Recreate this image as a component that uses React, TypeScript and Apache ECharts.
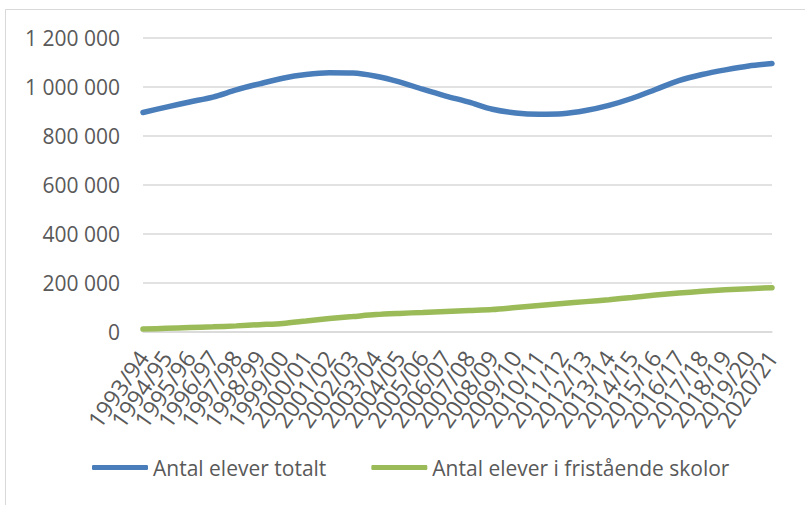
import React, { useEffect, useRef } from "react";
import * as echarts from "echarts";

const categories = [
  "1993/94", "1994/95", "1995/96", "1996/97", "1997/98", "1998/99", "1999/00",
  "2000/01", "2001/02", "2002/03", "2003/04", "2004/05", "2005/06", "2006/07",
  "2007/08", "2008/09", "2009/10", "2010/11", "2011/12", "2012/13", "2013/14",
  "2014/15", "2015/16", "2016/17", "2017/18", "2018/19", "2019/20", "2020/21",
];

const totalPupils = [
  896000, 918000, 939000, 959000, 988000, 1013000, 1036000, 1051000, 1058000,
  1057000, 1044000, 1021000, 991000, 963000, 938000, 909000, 894000, 889000,
  891000, 904000, 925000, 954000, 990000, 1026000, 1051000, 1070000, 1086000,
  1096000,
];

const independentPupils = [
  12000, 15000, 18000, 21000, 25000, 30000, 35000, 45000, 55000, 63000, 71000,
  76000, 80000, 84000, 88000, 92000, 100000, 108000, 116000, 124000, 132000,
  141000, 151000, 159000, 166000, 172000, 177000, 181000,
];

const seriesNames = ["Antal elever totalt", "Antal elever i fristående skolor"];

const FONT = "'Open Sans', 'Noto Sans', sans-serif";
const TEXT = "#595959";

const fmt = (v: number) =>
  String(Math.round(v)).replace(/\B(?=(\d{3})+(?!\d))/g, " ");

export default function App() {
  const ref = useRef<HTMLDivElement>(null);
  useEffect(() => {
    if (!ref.current) return;
    const chart = echarts.init(ref.current, undefined, { renderer: "svg" });
    chart.setOption({
      animation: false,
      backgroundColor: "#ffffff",
      textStyle: { fontFamily: FONT },
      graphic: [
        {
          type: "rect",
          shape: { x: 5.5, y: 9.5, width: 1000, height: 1000 },
          style: { fill: "none", stroke: "#d9d9d9", lineWidth: 1 },
          silent: true,
        },
      ],
      grid: { left: 143, right: 33, top: 38, bottom: 173, containLabel: false },
      legend: {
        left: 87,
        top: 452,
        icon: "roundRect",
        itemWidth: 56,
        itemHeight: 5,
        itemGap: 45,
        textStyle: { color: TEXT, fontSize: 21, fontFamily: FONT },
        data: seriesNames,
      },
      xAxis: {
        type: "category",
        data: categories,
        boundaryGap: false,
        axisLine: { show: true, lineStyle: { color: "#d9d9d9", width: 1.5 } },
        axisTick: { show: false },
        axisLabel: {
          interval: 0,
          rotate: 55,
          margin: 21,
          color: TEXT,
          fontSize: 23,
          fontFamily: FONT,
        },
      },
      yAxis: {
        type: "value",
        min: 0,
        max: 1200000,
        interval: 200000,
        axisLine: { show: false },
        axisTick: { show: false },
        splitLine: { lineStyle: { color: "#d9d9d9", width: 1.5 } },
        axisLabel: {
          margin: 23,
          color: TEXT,
          fontSize: 21,
          fontFamily: FONT,
          formatter: (v: number) => fmt(v),
        },
      },
      series: [
        {
          name: seriesNames[0],
          type: "line",
          data: totalPupils,
          smooth: 0.3,
          symbol: "none",
          itemStyle: { color: "#4a7ebb" },
          lineStyle: { color: "#4a7ebb", width: 5.5, cap: "round" },
        },
        {
          name: seriesNames[1],
          type: "line",
          data: independentPupils,
          smooth: 0.3,
          symbol: "none",
          itemStyle: { color: "#9bbb59" },
          lineStyle: { color: "#9bbb59", width: 5.5, cap: "round" },
        },
      ],
    });
    return () => chart.dispose();
  }, []);
  return (
    <div
      ref={ref}
      style={{ position: "fixed", left: 0, top: 0, width: 805, height: 505 }}
    />
  );
}
